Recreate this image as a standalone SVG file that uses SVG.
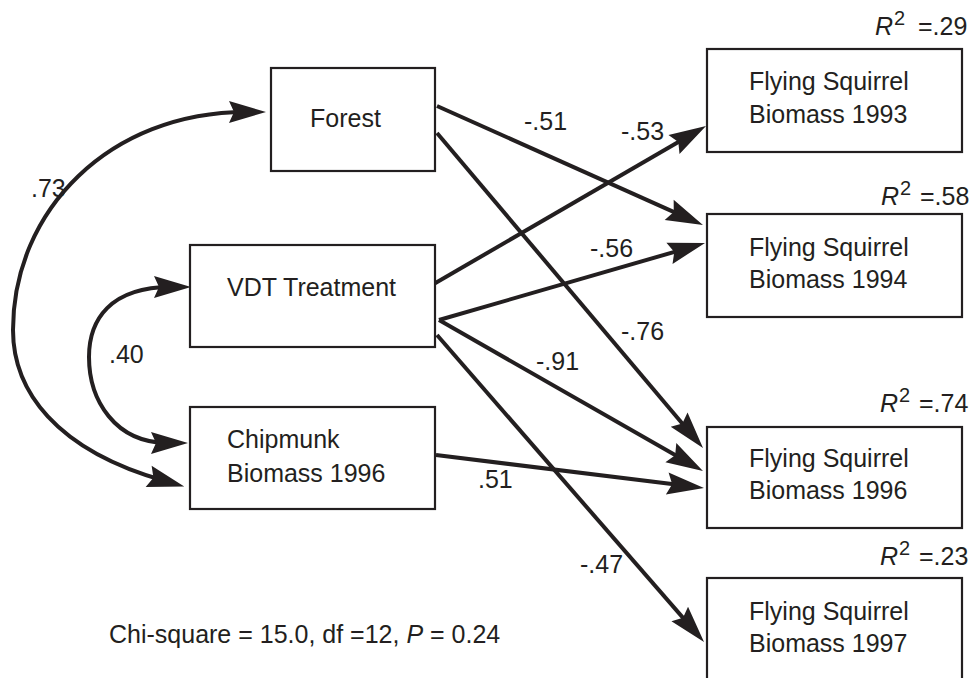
<svg xmlns="http://www.w3.org/2000/svg" width="972" height="678" viewBox="0 0 972 678">
  <style>
    .box { fill: #ffffff; stroke: #231f20; stroke-width: 2.2; }
    .lbl { font-family: "Liberation Sans", Arial, sans-serif; font-size: 25px; fill: #231f20; }
    .sup { font-family: "Liberation Sans", Arial, sans-serif; font-size: 20px; fill: #231f20; }
    .edge { fill: none; stroke: #231f20; stroke-width: 4; marker-end: url(#ah); }
    .corr { fill: none; stroke: #231f20; stroke-width: 4; marker-start: url(#ah); marker-end: url(#ah); }
  </style>
  <defs>
    <!-- filled arrowhead; tip sits 20px beyond the path end -->
    <marker id="ah" viewBox="-20 -12 42 24" refX="0" refY="0" markerWidth="42" markerHeight="24" markerUnits="userSpaceOnUse" orient="auto-start-reverse">
      <path d="M20,0 L-17,-11 L-12,0 L-17,11 Z" fill="#231f20"/>
    </marker>
  </defs>

  <rect width="972" height="678" fill="#ffffff"/>

  <!-- paths and correlations -->
  <g id="connectors">
    <path class="corr" d="M246,112 C110,112 13,210 13,330 C13,390 55,450 165,481"/>
    <path class="corr" d="M171,287 C110,287 89,320 89,357 C89,400 115,443 168,443"/>
    <path class="edge" d="M437,106 L684.7,216.8"/>
    <path class="edge" d="M437,133 L690.1,432.7"/>
    <path class="edge" d="M432,285 L688.7,136"/>
    <path class="edge" d="M439,320 L685.8,248.6"/>
    <path class="edge" d="M439,320 L685.6,461.1"/>
    <path class="edge" d="M437,335 L690.9,626.9"/>
    <path class="edge" d="M436,455 L684.1,485.6"/>
  </g>

  <!-- path coefficients -->
  <g id="coefficients">
    <text class="lbl" x="31" y="197">.73</text>
    <text class="lbl" x="109" y="363">.40</text>
    <text class="lbl" x="524" y="130">-.51</text>
    <text class="lbl" x="621" y="140">-.53</text>
    <text class="lbl" x="590" y="257">-.56</text>
    <text class="lbl" x="621" y="340">-.76</text>
    <text class="lbl" x="536" y="370">-.91</text>
    <text class="lbl" x="478" y="488">.51</text>
    <text class="lbl" x="580" y="573">-.47</text>
  </g>

  <g id="forest">
    <rect class="box" x="271" y="68" width="164" height="103"/>
    <text class="lbl" x="310" y="127">Forest</text>
  </g>
  <g id="vdt">
    <rect class="box" x="190" y="245" width="245" height="102"/>
    <text class="lbl" x="227" y="296">VDT Treatment</text>
  </g>
  <g id="chipmunk">
    <rect class="box" x="190" y="407" width="245" height="102"/>
    <text class="lbl" x="227" y="448">Chipmunk</text>
    <text class="lbl" x="227" y="482">Biomass 1996</text>
  </g>

  <g id="fs1993">
    <rect class="box" x="707" y="49" width="255" height="103"/>
    <text class="lbl" x="749" y="90">Flying Squirrel</text>
    <text class="lbl" x="749" y="123">Biomass 1993</text>
    <text class="lbl" x="875" y="35" font-style="italic">R</text>
    <text class="sup" x="894" y="25">2</text>
    <text class="lbl" x="918" y="35">=.29</text>
  </g>
  <g id="fs1994">
    <rect class="box" x="707" y="214" width="255" height="103"/>
    <text class="lbl" x="749" y="256">Flying Squirrel</text>
    <text class="lbl" x="749" y="288">Biomass 1994</text>
    <text class="lbl" x="881" y="205" font-style="italic">R</text>
    <text class="sup" x="900" y="195">2</text>
    <text class="lbl" x="920" y="205">=.58</text>
  </g>
  <g id="fs1996">
    <rect class="box" x="707" y="427" width="255" height="101"/>
    <text class="lbl" x="749" y="467">Flying Squirrel</text>
    <text class="lbl" x="749" y="499">Biomass 1996</text>
    <text class="lbl" x="880" y="412" font-style="italic">R</text>
    <text class="sup" x="899" y="402">2</text>
    <text class="lbl" x="919" y="412">=.74</text>
  </g>
  <g id="fs1997">
    <rect class="box" x="707" y="578" width="255" height="103"/>
    <text class="lbl" x="749" y="620">Flying Squirrel</text>
    <text class="lbl" x="749" y="652">Biomass 1997</text>
    <text class="lbl" x="880" y="565" font-style="italic">R</text>
    <text class="sup" x="899" y="555">2</text>
    <text class="lbl" x="919" y="565">=.23</text>
  </g>

  <g id="fit">
    <text class="lbl" x="109" y="643">Chi-square = 15.0, df =12, <tspan font-style="italic">P</tspan> = 0.24</text>
  </g>
</svg>
